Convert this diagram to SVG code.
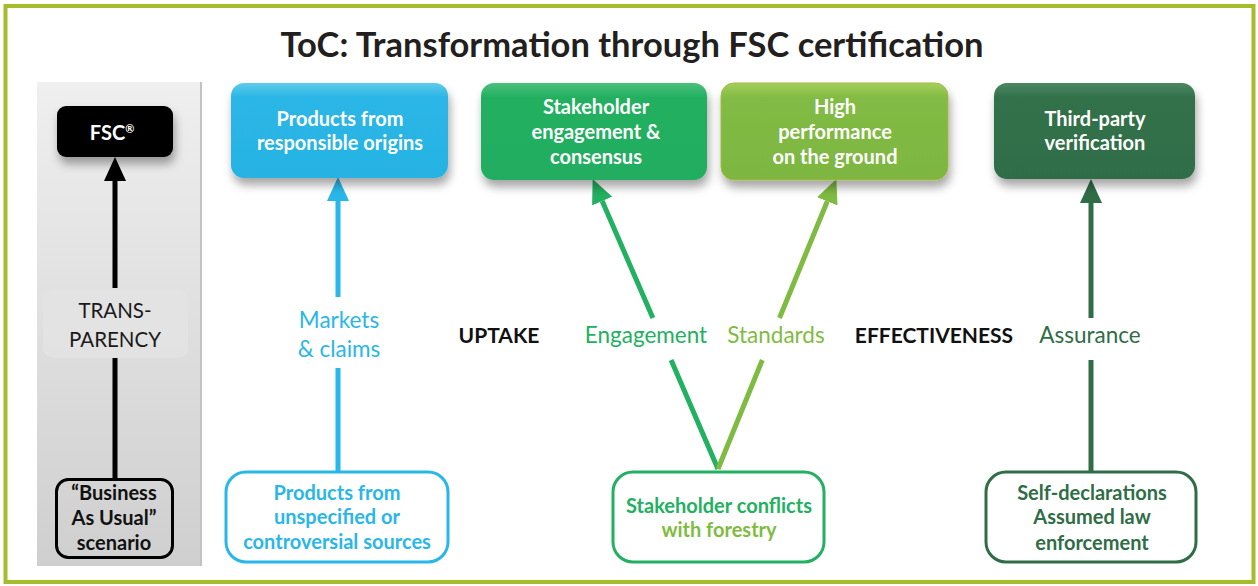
<svg xmlns="http://www.w3.org/2000/svg" width="1258" height="586" viewBox="0 0 1258 586">
  <defs>
    <linearGradient id="panel" x1="0" y1="0" x2="0" y2="1">
      <stop offset="0" stop-color="#efefef"/>
      <stop offset="1" stop-color="#cfcfcf"/>
    </linearGradient>
    <linearGradient id="gBlue" x1="0" y1="0" x2="0" y2="1">
      <stop offset="0" stop-color="#5fcbe9"/>
      <stop offset="0.15" stop-color="#2ab6e6"/>
      <stop offset="1" stop-color="#27b3e4"/>
    </linearGradient>
    <linearGradient id="gGreen" x1="0" y1="0" x2="0" y2="1">
      <stop offset="0" stop-color="#4cbf7c"/>
      <stop offset="0.15" stop-color="#22b061"/>
      <stop offset="1" stop-color="#23ad60"/>
    </linearGradient>
    <linearGradient id="gLight" x1="0" y1="0" x2="0" y2="1">
      <stop offset="0" stop-color="#a4cf5c"/>
      <stop offset="0.15" stop-color="#82bb44"/>
      <stop offset="1" stop-color="#7db641"/>
    </linearGradient>
    <linearGradient id="gDark" x1="0" y1="0" x2="0" y2="1">
      <stop offset="0" stop-color="#4c8762"/>
      <stop offset="0.15" stop-color="#31714a"/>
      <stop offset="1" stop-color="#2f6d47"/>
    </linearGradient>
    <filter id="shadow" x="-10%" y="-10%" width="120%" height="140%">
      <feDropShadow dx="2" dy="7" stdDeviation="5" flood-color="#000" flood-opacity="0.35"/>
    </filter>
    <marker id="aBlack" viewBox="0 0 24 22" refX="0" refY="11" markerWidth="24" markerHeight="22" markerUnits="userSpaceOnUse" orient="auto">
      <path d="M0,0 L24,11 L0,22 Z" fill="#000"/>
    </marker>
    <marker id="aBlue" viewBox="0 0 24 22" refX="0" refY="11" markerWidth="24" markerHeight="22" markerUnits="userSpaceOnUse" orient="auto">
      <path d="M0,0 L24,11 L0,22 Z" fill="#29b6e8"/>
    </marker>
    <marker id="aGreen" viewBox="0 0 24 22" refX="0" refY="11" markerWidth="24" markerHeight="22" markerUnits="userSpaceOnUse" orient="auto">
      <path d="M0,0 L24,11 L0,22 Z" fill="#22b061"/>
    </marker>
    <marker id="aLight" viewBox="0 0 24 22" refX="0" refY="11" markerWidth="24" markerHeight="22" markerUnits="userSpaceOnUse" orient="auto">
      <path d="M0,0 L24,11 L0,22 Z" fill="#7fbb42"/>
    </marker>
    <marker id="aDark" viewBox="0 0 24 22" refX="0" refY="11" markerWidth="24" markerHeight="22" markerUnits="userSpaceOnUse" orient="auto">
      <path d="M0,0 L24,11 L0,22 Z" fill="#2f6d47"/>
    </marker>
  </defs>
  <style>
    text { font-family: Lato, "Open Sans", "Liberation Sans", sans-serif; text-anchor: middle; }
    .title { font-size: 34.5px; font-weight: bold; fill: #231f20; }
    .boxt { font-size: 20px; font-weight: bold; fill: #ffffff; }
    .lbl { font-size: 22.5px; }
    .tlbl { font-size: 20.5px; fill: #1a1a1a; }
    .klbl { font-size: 21px; font-weight: bold; fill: #111; }
    .bt { font-size: 20px; font-weight: bold; }
    .con { fill: none; stroke-width: 5; stroke-linecap: butt; }
  </style>

  <rect x="0" y="0" width="1258" height="586" fill="#ffffff"/>
  <rect x="5.5" y="6" width="1248" height="576" fill="none" stroke="#a5bd2a" stroke-width="4"/>

  <text class="title" x="632" y="57">ToC: Transformation through FSC certification</text>

  <g id="panel-left">
    <rect x="37" y="82" width="164" height="484" fill="url(#panel)"/>
    <line x1="201" y1="82" x2="201" y2="566" stroke="#c2c2c2" stroke-width="2"/>
  </g>

  <g id="connectors">
    <line class="con" x1="115" y1="479" x2="115" y2="358" stroke="#000"/>
    <line class="con" x1="115" y1="288" x2="115" y2="181" stroke="#000" marker-end="url(#aBlack)"/>
    <line class="con" x1="338" y1="471" x2="338" y2="368" stroke="#29b6e8"/>
    <line class="con" x1="338" y1="297" x2="338" y2="201" stroke="#29b6e8" marker-end="url(#aBlue)"/>
    <line class="con" x1="718" y1="469" x2="671.1" y2="360" stroke="#22b061"/>
    <line class="con" x1="652.9" y1="318" x2="602.2" y2="201.1" stroke="#22b061" marker-end="url(#aGreen)"/>
    <line class="con" x1="718" y1="469" x2="762.3" y2="360" stroke="#7fbb42"/>
    <line class="con" x1="779.5" y1="318" x2="827.3" y2="201.3" stroke="#7fbb42" marker-end="url(#aLight)"/>
    <line class="con" x1="1091" y1="471" x2="1091" y2="360" stroke="#2f6d47"/>
    <line class="con" x1="1091" y1="318" x2="1091" y2="203" stroke="#2f6d47" marker-end="url(#aDark)"/>
  </g>

  <g id="fsc">
    <rect x="57" y="106" width="116" height="51" rx="9" fill="#000" filter="url(#shadow)"/>
    <text class="boxt" x="112" y="140" font-size="19">FSC<tspan font-size="11" dy="-7">®</tspan></text>
  </g>

  <g id="transparency">
    <rect x="43" y="290" width="145" height="68" rx="10" fill="#e4e4e4" opacity="0.8"/>
    <text class="tlbl" x="115" y="318">TRANS-</text>
    <text class="tlbl" x="115" y="347">PARENCY</text>
  </g>

  <g id="bau">
    <rect x="56.5" y="479.5" width="116" height="78" rx="12" fill="none" stroke="#000" stroke-width="3"/>
    <text class="bt" x="114" y="500" fill="#111">“Business</text>
    <text class="bt" x="114" y="525" fill="#111">As Usual”</text>
    <text class="bt" x="114" y="550" fill="#111">scenario</text>
  </g>

  <g id="products-responsible">
    <rect x="231" y="83" width="217" height="95" rx="13" fill="url(#gBlue)" filter="url(#shadow)"/>
    <text class="boxt" x="340" y="126">Products from</text>
    <text class="boxt" x="340" y="150">responsible origins</text>
  </g>

  <g id="engagement-box">
    <rect x="481" y="83" width="226" height="97" rx="13" fill="url(#gGreen)" filter="url(#shadow)"/>
    <text class="boxt" x="596" y="114">Stakeholder</text>
    <text class="boxt" x="596" y="139">engagement &amp;</text>
    <text class="boxt" x="596" y="164">consensus</text>
  </g>

  <g id="performance-box">
    <rect x="721" y="83" width="227" height="97" rx="13" fill="url(#gLight)" stroke="#a9b843" stroke-width="1" filter="url(#shadow)"/>
    <text class="boxt" x="835" y="114">High</text>
    <text class="boxt" x="835" y="139">performance</text>
    <text class="boxt" x="835" y="164">on the ground</text>
  </g>

  <g id="verification-box">
    <rect x="994" y="83" width="201" height="96" rx="13" fill="url(#gDark)" filter="url(#shadow)"/>
    <text class="boxt" x="1095" y="126">Third-party</text>
    <text class="boxt" x="1095" y="150">verification</text>
  </g>

  <g id="labels">
    <text class="lbl" x="339" y="328" fill="#29b6e8">Markets</text>
    <text class="lbl" x="339" y="357" fill="#29b6e8">&amp; claims</text>
    <text class="klbl" x="499" y="343">UPTAKE</text>
    <text class="lbl" x="646" y="343" fill="#22b061">Engagement</text>
    <text class="lbl" x="776" y="343" fill="#7fbb42">Standards</text>
    <text class="klbl" x="934" y="343">EFFECTIVENESS</text>
    <text class="lbl" x="1090" y="343" fill="#2f6d47">Assurance</text>
  </g>

  <g id="products-unspecified">
    <rect x="226" y="472" width="222" height="90" rx="20" fill="#fff" stroke="#29b6e8" stroke-width="3"/>
    <text class="bt" x="337" y="500" fill="#29b6e8">Products from</text>
    <text class="bt" x="337" y="524" fill="#29b6e8">unspecified or</text>
    <text class="bt" x="337" y="549" fill="#29b6e8">controversial sources</text>
  </g>

  <g id="conflicts">
    <rect x="613" y="472" width="211" height="90" rx="20" fill="#fff" stroke="#22b061" stroke-width="3"/>
    <text class="bt" x="719" y="513" fill="#22b061">Stakeholder conflicts</text>
    <text class="bt" x="719" y="537" fill="#7fbb42">with forestry</text>
  </g>

  <g id="self-declarations">
    <rect x="986" y="472" width="210" height="90" rx="20" fill="#fff" stroke="#2f6d47" stroke-width="3"/>
    <text class="bt" x="1092" y="500" fill="#2f6d47">Self-declarations</text>
    <text class="bt" x="1092" y="524" fill="#2f6d47">Assumed law</text>
    <text class="bt" x="1092" y="550" fill="#2f6d47">enforcement</text>
  </g>
</svg>
